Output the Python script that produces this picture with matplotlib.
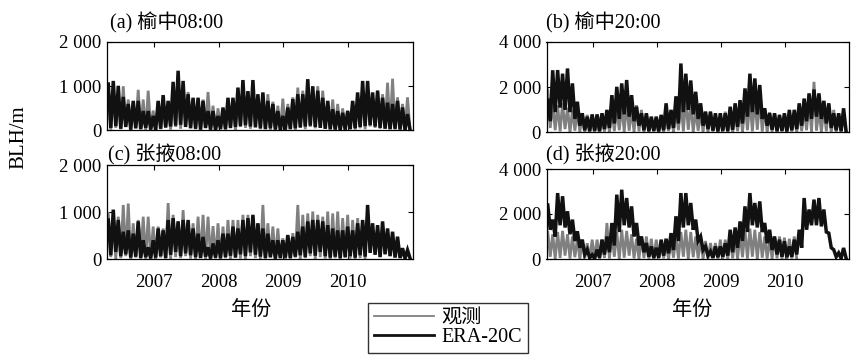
import numpy as np
import matplotlib
matplotlib.use("Agg")
import matplotlib.pyplot as plt
from matplotlib.lines import Line2D

plt.rcParams['font.family'] = ['Liberation Serif', 'Noto Sans CJK SC']
plt.rcParams['axes.unicode_minus'] = False

# ---------------- data ----------------
# time axis: decimal years, one sample every 1/26 year starting 2006.30
t_start = 2006.30
n_samples = 122

# Panel (a) Yuzhong 08:00 -- peaks / lows alternate in time
era_a_peak = [1050, 1120, 1010, 760, 600, 670, 670, 440, 440, 330,
              670, 800, 670, 1100, 1350, 1120, 820, 740, 740, 670, 440, 440, 330,
              520, 740, 740, 970, 1140, 890, 1140, 820, 860, 670, 600, 440, 330,
              520, 710, 820, 820, 1160, 1000, 900, 740, 670, 480, 440, 400, 440,
              670, 860, 1120, 1120, 860, 900, 740, 630, 600, 670, 520, 370]
era_a_low = [60, 100, 40, 80, 20, 50, 30, 60, 20, 10,
             40, 70, 90, 110, 130, 80, 50, 40, 20, 60, 20, 10, 30,
             30, 60, 80, 100, 120, 90, 70, 50, 30, 50, 20, 10, 20,
             30, 50, 70, 90, 110, 80, 60, 40, 30, 20, 10, 20, 30,
             50, 80, 100, 120, 90, 60, 40, 30, 40, 20, 10, 20]
obs_a_peak = [800, 900, 850, 1000, 700, 650, 920, 700, 900, 450,
              650, 600, 500, 850, 1000, 900, 870, 700, 650, 700, 870, 560, 500,
              450, 600, 650, 750, 900, 800, 900, 750, 750, 820, 650, 560, 720,
              600, 750, 970, 900, 950, 850, 1000, 900, 650, 700, 600, 500, 450,
              620, 700, 800, 900, 760, 900, 820, 1080, 1170, 750, 600, 750]
obs_a_low = [20, 60, 30, 80, 10, 50, 30, 0, 40, 10,
             30, 60, 20, 80, 40, 100, 60, 30, 0, 50, 20, 10, 40,
             20, 50, 10, 80, 60, 40, 90, 30, 50, 10, 30, 0, 20,
             40, 10, 60, 30, 80, 50, 100, 40, 20, 30, 10, 0, 30,
             20, 50, 30, 90, 60, 40, 80, 30, 20, 50, 10, 0]

# Panel (b) Yuzhong 20:00
era_b_peak = [1430, 2750, 2760, 2600, 2830, 2170, 1360, 850, 700, 800,
              800, 850, 1000, 1650, 2020, 2170, 2320, 1650, 1140, 850, 850, 700, 700,
              780, 1290, 1000, 1600, 3050, 2600, 2300, 1800, 1290, 920, 920, 850, 850,
              850, 1140, 1290, 1430, 1950, 2600, 2390, 2100, 1070, 850, 850, 780, 850,
              1000, 1000, 1290, 1500, 1730, 1900, 1730, 1400, 1290, 850, 850, 1070]
era_b_low = [500, 900, 1100, 1000, 900, 600, 300, 100, 50, 80,
             60, 150, 200, 400, 600, 800, 700, 500, 300, 100, 60, 80, 50,
             100, 150, 200, 400, 900, 1000, 800, 600, 300, 150, 80, 50, 80,
             60, 120, 250, 400, 700, 900, 800, 600, 300, 120, 60, 80, 50,
             100, 150, 300, 500, 600, 700, 600, 400, 200, 100, 60, 80]
obs_b_peak = [1880, 1300, 1200, 1300, 1100, 1000, 1000, 780, 780, 700,
              500, 650, 900, 1000, 1100, 1200, 1300, 1000, 1210, 1000, 850, 600, 500,
              600, 800, 900, 1100, 1400, 1500, 1300, 1000, 900, 920, 920, 700, 650,
              920, 800, 900, 1100, 1300, 1400, 1500, 1500, 1070, 900, 850, 700, 650,
              600, 800, 900, 1000, 1400, 2240, 1000, 1100, 1210, 1000, 850, 800]
obs_b_low = [200, 100, 50, 150, 0, 80, 30, 0, 60, 20,
             0, 40, 10, 60, 100, 30, 80, 20, 50, 0, 30, 10, 0,
             20, 60, 10, 100, 50, 120, 30, 80, 20, 0, 40, 10, 0,
             30, 0, 60, 20, 100, 50, 120, 40, 10, 30, 0, 20, 0,
             40, 10, 60, 100, 30, 80, 20, 50, 0, 30, 10, 0]

# Panel (c) Zhangye 08:00
era_c_peak = [830, 1050, 830, 580, 610, 540, 800, 400, 250, 400,
              650, 610, 830, 870, 800, 830, 830, 650, 540, 470, 250, 330, 400,
              540, 540, 690, 650, 830, 870, 940, 760, 650, 540, 400, 400, 400,
              510, 470, 580, 690, 800, 830, 830, 800, 720, 650, 610, 610, 690,
              610, 760, 830, 1150, 760, 720, 800, 650, 580, 475, 230, 190]
era_c_low = [80, 150, 60, 100, 30, 50, 20, 40, 10, 30,
             60, 20, 90, 150, 60, 120, 80, 40, 20, 50, 10, 30, 20,
             40, 70, 30, 100, 60, 140, 90, 50, 20, 40, 10, 20, 30,
             20, 50, 80, 40, 120, 70, 150, 60, 30, 50, 20, 40, 60,
             30, 80, 50, 130, 90, 40, 100, 60, 30, 20, 10, 20]
obs_c_peak = [970, 800, 900, 1150, 1180, 760, 830, 900, 900, 690,
              690, 650, 1190, 940, 800, 1040, 800, 760, 900, 940, 900, 700, 760,
              690, 830, 830, 830, 940, 940, 900, 750, 1150, 760, 690, 650, 440,
              400, 550, 1150, 940, 970, 1010, 940, 900, 1010, 970, 1010, 870, 940,
              830, 870, 800, np.nan, np.nan, np.nan, np.nan, np.nan, np.nan, np.nan, np.nan, np.nan]
obs_c_low = [40, 0, 20, 60, 0, 30, 10, 0, 20, 0,
             30, 10, 0, 40, 20, 60, 10, 0, 30, 0, 20, 10, 0,
             20, 0, 40, 10, 0, 60, 20, 0, 10, 30, 0, 20, 0,
             10, 30, 0, 20, 60, 0, 40, 10, 0, 20, 0, 30, 10,
             0, 20, 10, np.nan, np.nan, np.nan, np.nan, np.nan, np.nan, np.nan, np.nan, np.nan]

# Panel (d) Zhangye 20:00
era_d_peak = [2400, 1750, 2930, 2790, 2120, 1750, 1230, 860, 415, 190,
              415, 860, 1000, 1600, 2860, 3080, 2710, 2340, 1600, 1000, 710, 560, 500,
              860, 900, 1150, 1900, 2930, 2930, 2490, 1750, 1000, 560, 340, 560, 560,
              700, 1300, 1400, 1670, 2340, 2930, 2490, 2560, 1600, 1300, 1000, 860, 790,
              560, 860, 1300, 2710, 2200, 2640, 2710, 2200, 1150, 415, 270, 490]
era_d_low = [1300, 1000, 1500, 1400, 1100, 800, 500, 200, 50, 20,
             60, 200, 300, 600, 1200, 1500, 1400, 1000, 600, 300, 100, 50, 60,
             150, 250, 400, 800, 1400, 1500, 1300, 800, 400, 150, 50, 80, 100,
             150, 300, 500, 800, 1200, 1500, 1400, 1200, 700, 400, 200, 100, 80,
             100, 200, 500, 1300, 1500, 1500, 1450, 1200, 500, 100, 30, 50]
obs_d_peak = [1200, 1100, 1200, 1250, 1100, 1000, 900, 800, 700, 860,
              860, 860, 1600, 1100, 1200, 1300, 1250, 1100, 900, 1000, 1000, 900, 860,
              780, 700, 800, 1000, 1200, 1300, 1200, 1000, 900, 800, 710, 710, 860,
              860, 900, 1000, 1100, 1300, 1350, 1300, 1200, 1000, 900, 1000, 1000, 950,
              900, 1000, np.nan, np.nan, np.nan, np.nan, np.nan, np.nan, np.nan, np.nan, np.nan, np.nan]
obs_d_low = [100, 0, 50, 150, 20, 80, 0, 30, 0, 20,
             0, 50, 20, 100, 0, 60, 150, 30, 0, 40, 10, 0, 20,
             30, 0, 60, 20, 100, 0, 80, 30, 0, 20, 40, 0, 10,
             0, 30, 10, 80, 20, 100, 0, 60, 20, 0, 30, 10, 0,
             20, 0, np.nan, np.nan, np.nan, np.nan, np.nan, np.nan, np.nan, np.nan, np.nan, np.nan]

titles = ['(a) 榆中08:00', '(b) 榆中20:00', '(c) 张掖08:00', '(d) 张掖20:00']
year_ticks = [2007, 2008, 2009, 2010]
year_labels = ['2007', '2008', '2009', '2010']
yticks_left = [0, 1000, 2000]
ylabels_left = ['0', '1 000', '2 000']
yticks_right = [0, 2000, 4000]
ylabels_right = ['0', '2 000', '4 000']
legend_labels = ['观测', 'ERA-20C']


def interleave(peaks, lows):
    s = np.empty(len(peaks) + len(lows))
    s[0::2] = peaks
    s[1::2] = lows
    return s


t = t_start + np.arange(n_samples) / 26.0

W, H = 851, 355
fig = plt.figure(figsize=(W / 100, H / 100), dpi=100)


def fbox(l, t_, r, b):
    return [l / W, 1 - b / H, (r - l) / W, (b - t_) / H]


GRAY = '#808080'
BLACK = '#111111'
FS = 13.5
FS_T = 14.5

panels = [
    (fbox(107, 42, 413, 130.5), era_a_peak, era_a_low, obs_a_peak, obs_a_low, yticks_left, ylabels_left, False),
    (fbox(546.5, 42, 849, 132.5), era_b_peak, era_b_low, obs_b_peak, obs_b_low, yticks_right, ylabels_right, False),
    (fbox(107, 165, 413, 259), era_c_peak, era_c_low, obs_c_peak, obs_c_low, yticks_left, ylabels_left, True),
    (fbox(546.5, 169, 849, 259), era_d_peak, era_d_low, obs_d_peak, obs_d_low, yticks_right, ylabels_right, True),
]

for (box, ep, el, op, ol, yt, yl, show_x) in panels:
    ax = fig.add_axes(box)
    ax.plot(t, interleave(op, ol), color=GRAY, lw=2.0, solid_joinstyle='miter')
    ax.plot(t, interleave(ep, el), color=BLACK, lw=2.5, solid_joinstyle='miter')
    ax.set_xlim(2006.28, 2011.0)
    ax.set_ylim(yt[0], yt[-1])
    ax.set_xticks(year_ticks)
    if show_x:
        ax.set_xticklabels(year_labels, fontsize=FS)
    else:
        ax.set_xticklabels([])
    ax.set_yticks(yt)
    ax.set_yticklabels(yl, fontsize=FS)
    ax.tick_params(direction='in', top=True, right=True, length=3.5, width=0.8,
                   pad=4, colors='black')
    ax.tick_params(axis='x', pad=11)
    for s in ax.spines.values():
        s.set_linewidth(0.9)
        s.set_color('black')

# titles
fig.text(110 / W, 1 - 23 / H, titles[0], fontsize=FS_T, ha='left', va='center')
fig.text(546 / W, 1 - 23 / H, titles[1], fontsize=FS_T, ha='left', va='center')
fig.text(108 / W, 1 - 155 / H, titles[2], fontsize=FS_T, ha='left', va='center')
fig.text(546 / W, 1 - 155 / H, titles[3], fontsize=FS_T, ha='left', va='center')

# axis labels
fig.text(19 / W, 1 - 137 / H, 'BLH/m', fontsize=15, rotation=90, ha='center', va='center')
fig.text(251 / W, 1 - 310 / H, '年份', fontsize=FS_T, ha='center', va='center')
fig.text(692 / W, 1 - 310 / H, '年份', fontsize=FS_T, ha='center', va='center')

handles = [Line2D([], [], color=GRAY, lw=1.3), Line2D([], [], color=BLACK, lw=2.0)]
leg = fig.legend(handles, legend_labels, loc='upper left',
                 bbox_to_anchor=(368 / W, 1 - 303 / H), fontsize=14.5,
                 frameon=True, fancybox=False, edgecolor='black',
                 handlelength=3.0, handletextpad=0.35, borderpad=0.3,
                 labelspacing=0.0, borderaxespad=0)
leg.get_frame().set_linewidth(1.0)

fig.savefig('out.png', dpi=100)
